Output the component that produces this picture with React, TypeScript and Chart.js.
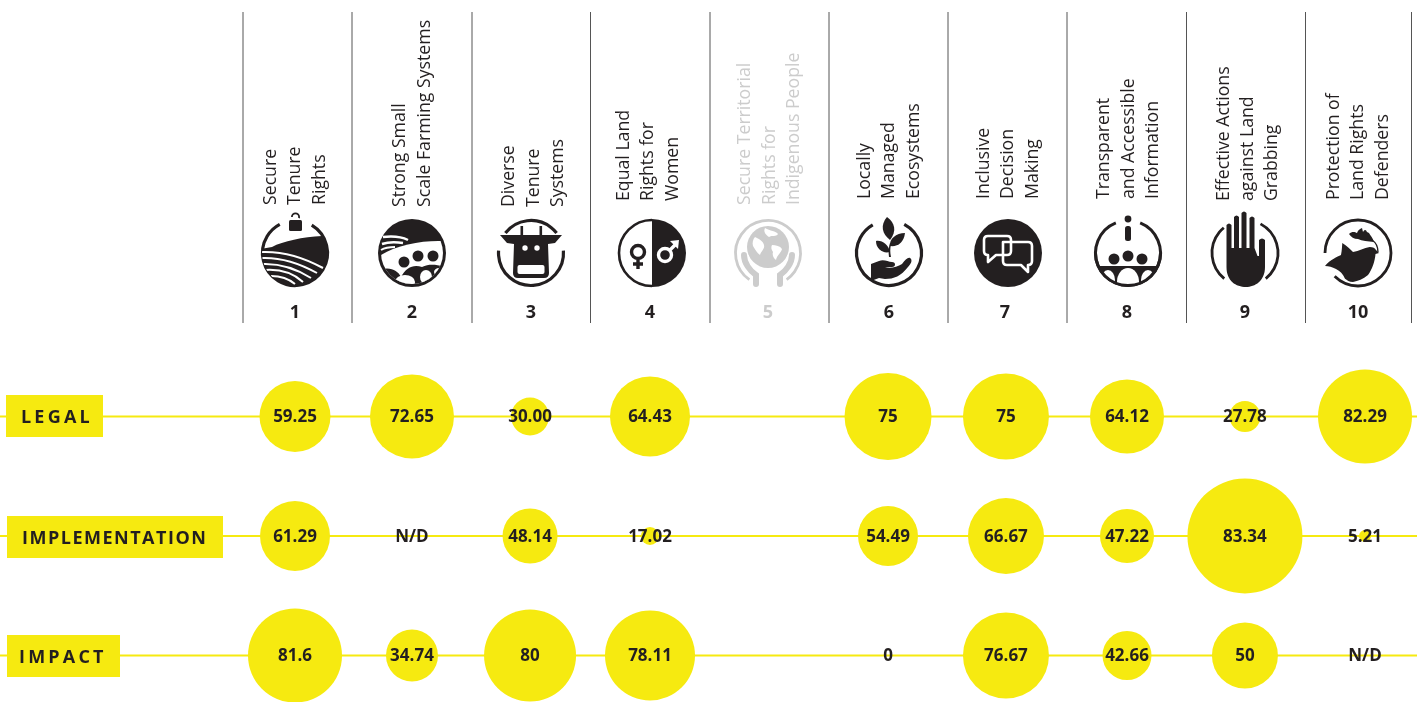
import React, { useEffect, useRef } from "react";
import { Chart, registerables } from "chart.js";

Chart.register(...registerables);

const columnNumbers = ["1", "2", "3", "4", "5", "6", "7", "8", "9", "10"];
const columnCentres = [1, 1.984, 2.977, 3.986, 4.978, 5.988, 6.98, 7.998, 8.99, 10];
const rowNames = ["LEGAL", "IMPLEMENTATION", "IMPACT"];

const legalLabels = ["59.25", "72.65", "30.00", "64.43", null, "75", "75", "64.12", "27.78", "82.29"];
const legalSizes = [35.5, 42, 19, 40, null, 43.5, 43, 37, 15.5, 47];
const implementationLabels = ["61.29", "N/D", "48.14", "17.02", null, "54.49", "66.67", "47.22", "83.34", "5.21"];
const implementationSizes = [35, 0, 27.5, 9, null, 30, 38, 27, 57.5, 6];
const impactLabels = ["81.6", "34.74", "80", "78.11", null, "0", "76.67", "42.66", "50", "N/D"];
const impactSizes = [47, 26, 46, 45, null, 0, 43, 24.5, 33, 0];

const columnTitles = [
  ["Secure", "Tenure", "Rights"],
  ["Strong Small", "Scale Farming Systems"],
  ["Diverse", "Tenure", "Systems"],
  ["Equal Land", "Rights for", "Women"],
  ["Secure Territorial", "Rights for", "Indigenous People"],
  ["Locally", "Managed", "Ecosystems"],
  ["Inclusive", "Decision", "Making"],
  ["Transparent", "and Accessible", "Information"],
  ["Effective Actions", "against Land", "Grabbing"],
  ["Protection of", "Land Rights", "Defenders"],
];

const YELLOW = "#f6ea10";
const INK = "#231f20";
const MUTED = "#cccccc";
const TEXT_FONT = '"Open Sans"';

const dividerX = [243, 352, 472, 590.5, 710, 829, 948, 1067, 1186.5, 1305.5, 1411.5];
const iconX = [295, 412, 531, 652, 768, 889, 1008, 1128, 1245, 1358];
const numberX = [295, 412, 531, 650, 768, 889, 1005, 1127, 1245, 1358];
const titleX = [
  [271, 295, 320],
  [400, 425],
  [509, 534, 558],
  [624, 648, 673],
  [745, 770, 794],
  [865, 889, 914],
  [984, 1008, 1033],
  [1104, 1129, 1153],
  [1224, 1248, 1272],
  [1334, 1358, 1383],
];
const titleBottom = [205, 207, 207, 201, 205, 199, 199, 199, 201, 200];
const rowBoxes = [
  { x: 6, y: 395, w: 97, h: 42, tx: 21, ty: 418, sp: 3.2 },
  { x: 7, y: 516, w: 216, h: 42, tx: 22, ty: 539, sp: 1.5 },
  { x: 7, y: 635, w: 113, h: 42, tx: 19, ty: 658, sp: 3.2 },
];

type C = CanvasRenderingContext2D;
const ring = (c: C, a: number, b: number, r = 32.5, w = 3.2) => {
  c.lineWidth = w;
  c.beginPath();
  c.arc(0, 0, r, (a * Math.PI) / 180, (b * Math.PI) / 180);
  c.stroke();
};
const dot = (c: C, x: number, y: number, r: number) => {
  c.beginPath();
  c.arc(x, y, r, 0, Math.PI * 2);
  c.fill();
};
const fillP = (c: C, d: string) => c.fill(new Path2D(d));
const strokeP = (c: C, d: string, w: number) => {
  c.lineWidth = w;
  c.stroke(new Path2D(d));
};
const clipCircle = (c: C, r: number) => {
  c.beginPath();
  c.arc(0, 0, r, 0, Math.PI * 2);
  c.clip();
};

const icons: ((c: C, ink: string) => void)[] = [
  (c, ink) => {
    ring(c, -59, 242);
    c.beginPath();
    c.roundRect(-6, -33, 13, 11, 1.5);
    c.fill();
    c.lineWidth = 1.8;
    c.beginPath();
    c.arc(0.5, -36, 3.6, Math.PI, Math.PI * 2.1);
    c.stroke();
    c.save();
    clipCircle(c, 33);
    fillP(c, "M-23,-6 C-12,-12 8,-16 27,-17 L40,-17 L40,40 L-40,40 L-40,-3 Z");
    c.strokeStyle = "#fff";
    strokeP(c, "M-34,-1 C-12,-2 8,4 28,15", 2);
    strokeP(c, "M-34,5 C-14,4 4,10 22,20", 2);
    strokeP(c, "M-34,11 C-16,10 2,16 16,25", 2);
    strokeP(c, "M-30,17 C-16,16 -2,20 8,29", 2);
    strokeP(c, "M-24,23 C-14,23 -6,26 0,31", 2);
    c.restore();
  },
  (c, ink) => {
    dot(c, 0, 0, 34);
    c.save();
    clipCircle(c, 31);
    c.fillStyle = "#fff";
    fillP(c, "M-34,4 C-18,-8 10,-13 32,-12 L34,34 L-34,34 Z");
    c.fillStyle = ink;
    dot(c, -8, 9, 5.5);
    dot(c, 6, 3, 5.5);
    dot(c, 21, 3, 5.5);
    fillP(c, "M-30,16 C-20,14 -14,18 -11,24 C-6,14 2,11 10,14 C18,10 26,12 34,14 L34,40 L-34,40 Z");
    c.fillStyle = "#fff";
    c.beginPath();
    c.ellipse(-7, 29, 10, 7, 0, 0, Math.PI * 2);
    c.fill();
    c.beginPath();
    c.ellipse(14, 24, 6, 7, 0, 0, Math.PI * 2);
    c.fill();
    c.beginPath();
    c.ellipse(27, 19, 5, 4, 0, 0, Math.PI * 2);
    c.fill();
    c.restore();
    c.strokeStyle = "#fff";
    strokeP(c, "M-29,-16 C-20,-17 -10,-16 -4,-13", 2.5);
    strokeP(c, "M-30,-9 C-24,-11 -16,-11 -9,-10", 2.5);
    strokeP(c, "M-31,-3 C-26,-6 -22,-6 -17,-6", 2);
  },
  (c) => {
    ring(c, -4, 184);
    ring(c, -142, -38);
    fillP(c, "M-31,-18 L31,-18 L24,-10 L17,-9 L18,20 Q18,25 13,25 L-13,25 Q-18,25 -18,20 L-17,-9 L-24,-10 Z");
    c.beginPath();
    c.rect(-10.5, -27, 2.6, 10);
    c.rect(8.5, -27, 2.6, 10);
    c.fill();
    c.fillStyle = "#fff";
    dot(c, -6, -5, 2.7);
    dot(c, 6, -5, 2.7);
    c.beginPath();
    c.roundRect(-13.5, 12, 27, 9, 2);
    c.fill();
  },
  (c, ink) => {
    ring(c, 90, 270, 33, 2.6);
    fillP(c, "M0,-34 A34,34 0 0 1 0,34 Z");
    c.lineWidth = 3.4;
    c.beginPath();
    c.arc(-14, -1, 6.5, 0, Math.PI * 2);
    c.moveTo(-14, 6);
    c.lineTo(-14, 16);
    c.moveTo(-19, 11);
    c.lineTo(-9, 11);
    c.stroke();
    c.strokeStyle = "#fff";
    c.fillStyle = "#fff";
    c.beginPath();
    c.arc(13, 2, 6.5, 0, Math.PI * 2);
    c.moveTo(18, -3);
    c.lineTo(25, -10);
    c.stroke();
    fillP(c, "M18,-12 L27,-13 L26,-4 Z");
  },
  (c) => {
    ring(c, 125, 415, 32.5, 2.8);
    dot(c, 0, -6, 21);
    c.fillStyle = "#fff";
    fillP(c, "M-3,-25 C2,-22 8,-22 10,-19 C8,-16 4,-18 1,-16 C-2,-18 -5,-21 -3,-25 Z");
    fillP(c, "M-13,-16 C-9,-14 -5,-12 -4,-8 C-3,-4 -7,-2 -8,2 C-11,0 -13,-4 -15,-7 C-16,-10 -15,-14 -13,-16 Z");
    fillP(c, "M4,-8 C8,-8 12,-7 14,-4 C13,0 9,2 8,7 C5,5 4,1 5,-1 C3,-4 3,-6 4,-8 Z");
    c.fillStyle = MUTED;
    c.strokeStyle = "#fff";
    strokeP(c, "M-24,2 C-24,10 -18,18 -13,22 L-13,31", 9);
    strokeP(c, "M24,2 C24,10 18,18 13,22 L13,31", 9);
    c.strokeStyle = MUTED;
    c.lineCap = "round";
    strokeP(c, "M-24,2 C-24,10 -18,18 -12,22 L-12,31", 6);
    strokeP(c, "M24,2 C24,10 18,18 12,22 L12,31", 6);
    c.lineCap = "butt";
  },
  (c) => {
    ring(c, -62, 240, 32.5, 3.2);
    fillP(c, "M-2,-36 C6,-30 8,-22 1,-13 C-7,-19 -9,-28 -2,-36 Z");
    fillP(c, "M16,-20 C15,-11 9,-6 1,-7 C0,-14 7,-20 16,-20 Z");
    fillP(c, "M-13,-12 C-7,-13 -1,-9 1,-1 C-6,1 -13,-4 -13,-12 Z");
    fillP(c, "M2,-8 C1,-5 1,0 2,4 L0,4 C-1,-2 0,-7 1,-10 Z");
    fillP(c, "M-18,11 L-10,8 C-5,6 -1,9 3,9 C7,9 7,14 3,14 L-4,14 C1,16 8,14 13,11 C16,7 19,4 21,5 C24,7 22,11 19,14 C12,23 5,26 -4,26 L-10,25 L-18,28 Z");
  },
  (c) => {
    dot(c, 0, 0, 34);
    c.strokeStyle = "#fff";
    c.lineJoin = "round";
    strokeP(c, "M-20,-17 L-1,-17 Q3,-17 3,-13 L3,-2 Q3,2 -1,2 L-12,2 L-20,9 L-20,2 Q-24,2 -24,-2 L-24,-13 Q-24,-17 -20,-17 Z", 2.6);
    strokeP(c, "M-5,-11 L20,-11 Q24,-11 24,-7 L24,8 Q24,12 20,12 L20,19 L13,12 L-1,12 Q-5,12 -5,8 Z", 2.6);
  },
  (c, ink) => {
    ring(c, -68, 248, 32.5, 3);
    dot(c, 0, -34, 3.4);
    c.beginPath();
    c.roundRect(-3, -27, 6, 15, 2.5);
    c.fill();
    c.save();
    clipCircle(c, 33);
    dot(c, -14, 6, 5.5);
    dot(c, 0, 3, 5.5);
    dot(c, 14, 6, 5.5);
    c.fillRect(-34, 13, 68, 21);
    c.fillStyle = "#fff";
    c.beginPath();
    c.ellipse(0, 29, 11, 14, 0, 0, Math.PI * 2);
    c.fill();
    c.beginPath();
    c.ellipse(-20, 27, 7, 10, 0, 0, Math.PI * 2);
    c.fill();
    c.beginPath();
    c.ellipse(20, 27, 7, 10, 0, 0, Math.PI * 2);
    c.fill();
    c.restore();
    ring(c, 0, 180, 32.5, 3);
  },
  (c) => {
    ring(c, 129, 230, 33, 2.8);
    ring(c, -62, 51, 33, 2.8);
    fillP(c, "M-18.5,-28 Q-16,-31 -13.5,-28 L-13.5,-5 L-11,-5 L-11,-36 Q-8.5,-39 -6,-36 L-6,-5 L-3.5,-5 L-3.5,-40 Q-1,-43 1.5,-40 L1.5,-5 L4.5,-5 L4.5,-35 Q7,-38 9.5,-35 L9.5,-5 L12.5,3 L14,3 L14,-13 Q17,-16 20,-13 L20,14 C20,28 10,34 1,34 C-9,34 -18.5,28 -18.5,14 Z");
  },
  (c, ink) => {
    ring(c, 180, 495, 33, 2.8);
    c.strokeStyle = "#fff";
    const bird = "M-33,13 C-27,6 -21,4 -17,2 C-16,-3 -16,-7 -15.7,-10 C-11,-7 -8,-4 -5,-1 C1,-2 6,-5 11.7,-6 C15,-6 17,-5 18,-3 L21,0 L17.5,1 C17,8 14,17 10,22 C5,26 0,28 -5,29 C-9,29 -11,27 -13,25.7 C-15,21 -18,18 -22,16 C-26,14 -29,13 -33,13 Z";
    strokeP(c, bird, 2.4);
    fillP(c, bird);
    fillP(c, "M-9,-19 C-6,-22 -3,-21 -1,-20 C0,-23 2,-24 4,-25 L5,-21 C7,-24 8,-23 9,-21 L11,-20 C12,-18 15,-15 16,-11 C10,-12 4,-12 0,-14 C-4,-14 -7,-16 -9,-19 Z");
    c.strokeStyle = ink;
    c.lineWidth = 1.3;
    c.beginPath();
    c.moveTo(14, -13);
    c.quadraticCurveTo(20, -9, 20, -1);
    c.stroke();
  },
];

const headerPlugin = {
  id: "header",
  afterDatasetsDraw(chart: any) {
    const c: C = chart.ctx;
    c.save();
    c.textAlign = "center";
    c.textBaseline = "middle";
    dividerX.forEach((x) => {
      c.strokeStyle = "#555";
      c.lineWidth = 1;
      c.beginPath();
      c.moveTo(x, 12);
      c.lineTo(x, 323);
      c.stroke();
    });
    columnTitles.forEach((lines, i) => {
      const col = i === 4 ? MUTED : INK;
      c.fillStyle = col;
      c.font = `400 17.7px ${TEXT_FONT}`;
      c.textAlign = "left";
      lines.forEach((line, k) => {
        c.save();
        c.translate(titleX[i][k], titleBottom[i]);
        c.rotate(-Math.PI / 2);
        c.fillText(line, 0, 0);
        c.restore();
      });
      c.textAlign = "center";
      c.font = `700 18px ${TEXT_FONT}`;
      c.fillText(columnNumbers[i], numberX[i], 313);
      c.save();
      c.translate(iconX[i], 253);
      c.fillStyle = col;
      c.strokeStyle = col;
      icons[i](c, col);
      c.restore();
    });
    rowNames.forEach((name, i) => {
      const b = rowBoxes[i];
      c.fillStyle = YELLOW;
      c.fillRect(b.x, b.y, b.w, b.h);
      c.fillStyle = INK;
      c.font = `700 18px ${TEXT_FONT}`;
      c.textAlign = "left";
      (c as any).letterSpacing = `${b.sp}px`;
      c.fillText(name, b.tx, b.ty);
      (c as any).letterSpacing = "0px";
    });
    c.restore();
  },
};

const labelPlugin = {
  id: "bubbleLabels",
  afterDatasetsDraw(chart: any) {
    const c: C = chart.ctx;
    c.save();
    c.fillStyle = INK;
    c.font = `700 17px ${TEXT_FONT}`;
    c.textAlign = "center";
    c.textBaseline = "middle";
    chart.data.datasets.forEach((ds: any, i: number) => {
      if (ds.type === "line") return;
      chart.getDatasetMeta(i).data.forEach((el: any, j: number) => {
        c.fillText(ds.data[j].label, el.x, el.y + 1);
      });
    });
    c.restore();
  },
};

const rowData = (row: number, labels: (string | null)[], sizes: (number | null)[]) =>
  labels.flatMap((label, i) =>
    label === null ? [] : [{ x: columnCentres[i], y: row, r: sizes[i] as number, label }]
  );

const W = 1417;
const H = 702;
const xUnit = 118.89;
const yUnit = 119.5;
const xMin = 1 - 295 / xUnit;
const xMax = xMin + W / xUnit;
const yMin = 1 - 416.5 / yUnit;
const yMax = yMin + H / yUnit;

const rowLine = (row: number) => ({
  type: "line" as const,
  data: [
    { x: xMin, y: row },
    { x: xMax, y: row },
  ],
  borderColor: YELLOW,
  borderWidth: 2,
  pointRadius: 0,
  order: 2,
});
const rowBubbles = (row: number, labels: (string | null)[], sizes: (number | null)[]) => ({
  type: "bubble" as const,
  data: rowData(row, labels, sizes),
  backgroundColor: YELLOW,
  borderWidth: 0,
  order: 1,
});

export default function App() {
  const ref = useRef<HTMLCanvasElement>(null);
  useEffect(() => {
    const chart = new Chart(ref.current as HTMLCanvasElement, {
      type: "bubble",
      data: {
        datasets: [
          rowLine(1),
          rowLine(2),
          rowLine(3),
          rowBubbles(1, legalLabels, legalSizes),
          rowBubbles(2, implementationLabels, implementationSizes),
          rowBubbles(3, impactLabels, impactSizes),
        ] as any,
      },
      options: {
        animation: false,
        responsive: false,
        layout: { padding: 0, autoPadding: false },
        plugins: { legend: { display: false }, tooltip: { enabled: false } },
        scales: {
          x: { type: "linear", display: false, min: xMin, max: xMax },
          y: { type: "linear", display: false, min: yMin, max: yMax, reverse: true },
        },
      },
      plugins: [headerPlugin, labelPlugin],
    });
    return () => chart.destroy();
  }, []);
  return (
    <canvas
      ref={ref}
      width={W}
      height={H}
      style={{ position: "absolute", left: 0, top: 0, width: W, height: H, display: "block" }}
    />
  );
}
